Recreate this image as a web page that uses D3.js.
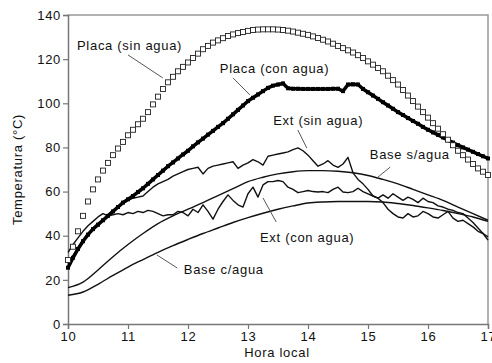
<!DOCTYPE html>
<html>
<head>
<meta charset="utf-8">
<script src="https://cdn.jsdelivr.net/npm/d3@7"></script>
<style>
  body { margin: 0; background: #fff; }
  text { font-family: "Liberation Sans", Arial, sans-serif; fill: #111; }
</style>
</head>
<body>
<svg id="chart" width="492" height="363"></svg>
<script>
// readings every 5 minutes from 10:00 to 17:00 (hours, decimal)
const sampleMinutes = d3.range(0, 421, 5)
const sampleHours = sampleMinutes.map(m => 10 + m / 60)

// smooth base temperatures, read every 15 minutes
const baseHours = d3.range(0, 421, 15).map(m => 10 + m / 60)

const placaSinAgua = [29, 35, 42, 49, 55.5, 61, 65.5, 69.5, 73, 76.5,
  79.5, 82.5, 85.5, 88, 90.5, 93, 96, 99.5, 103, 106.5,
  109.5, 112, 114.5, 116.5, 118.5, 120.5, 122.5, 124.5, 126, 127.5,
  128.5, 129.5, 130.5, 131.2, 131.8, 132.3, 132.8, 133.2, 133.4, 133.5,
  133.5, 133.5, 133.4, 133.2, 132.9, 132.5, 132, 131.5, 131, 130.3,
  129.6, 128.8, 128, 127, 126, 125, 124, 123, 121.8, 120.5,
  119, 117.5, 116, 114.5, 112.5, 110.5, 108.5, 106, 103.5, 101,
  98.5, 96, 93.5, 91, 88.5, 86, 83.5, 81, 78.5, 76.5,
  74.5, 72.5, 70.5, 69, 67.5]

const placaConAgua = [25.5, 30, 34, 37.5, 40.5, 43, 45, 47, 49, 51,
  53, 55, 56.5, 58, 59.8, 61.5, 63.5, 65.5, 67.5, 69.5,
  71.5, 73.2, 75, 76.8, 78.5, 80.5, 82.3, 84, 85.8, 87.5,
  89.3, 91, 93, 95, 97, 99, 101, 102.5, 104, 105.5,
  107, 108, 108.5, 109, 106.8, 106.6, 106.6, 106.5, 106.5, 106.5,
  106.5, 106.5, 106.5, 106.6, 106.6, 105.5, 108.5, 108.6, 108.5, 106.5,
  105, 103.5, 102, 100.5, 99, 97.5, 96, 94.7, 93.3, 92,
  90.7, 89.3, 88, 86.8, 85.7, 84.5, 83.3, 82.2, 81, 80,
  79, 78, 77, 76, 75]

const extSinAgua = [27, 31, 34.5, 38, 41, 43.5, 45.5, 47.5, 49.5, 51.5,
  53, 54.5, 56, 57, 57.5, 58, 60, 62, 63.5, 64.5,
  65.5, 67, 68, 69, 70, 70.5, 71, 68, 70.5, 71.5,
  72, 72.5, 73, 73.5, 70.5, 72, 73, 74.5, 73.5, 72,
  76, 76.5, 77, 77.5, 78, 79, 79.8, 78.5, 76.5, 74,
  71.5, 72.5, 74, 72, 71, 72.5, 75.5, 68.5, 65.5, 63.5,
  61, 58, 57, 58.5, 57, 59, 57.5, 56, 57.5, 56.5,
  55, 57, 55.5, 55, 53.5, 53, 52, 51.5, 50.5, 50,
  48, 46, 43.5, 41, 39.5]

const extConAgua = [32.5, 36, 39, 42, 44.5, 46.5, 48.5, 50, 49, 49.5,
  50, 49.5, 50.5, 50, 51, 50.5, 51.5, 51, 50, 49,
  49.5, 49.5, 51, 50.5, 49, 52, 50.5, 54, 51, 47.5,
  52, 55.5, 58.5, 56, 54, 53, 59, 62, 57.5, 63,
  64.5, 64.5, 65, 64.5, 62, 61, 59.5, 60, 60.5, 60,
  59.8, 60, 59.5, 61, 62, 59.8, 59.5, 60, 61.5, 60,
  59, 58, 57, 55, 52, 50, 48.5, 48, 50, 48.5,
  49, 51, 50, 48.5, 48, 49.5, 51, 48, 46.5, 47,
  45.5, 44, 42, 41, 38]

const baseSinAgua = [16.5, 19, 24.5, 30.5, 36, 41, 45.5, 49, 52, 55,
  58.2, 61.3, 64.5, 66.5, 68, 69, 69.5, 69.5, 69.2, 68.5,
  67.3, 65.5, 63.5, 61, 58.5, 56, 53, 50, 47]

const baseConAgua = [13, 14.5, 18, 22, 25.8, 29.2, 32.5, 35.5, 38.3, 41,
  43.5, 46, 48.2, 50.2, 52, 53.5, 54.8, 55.3, 55.5, 55.5,
  55.5, 55.3, 54.6, 53.7, 52.6, 51.4, 50, 48.5, 46.5]

const xTicks = [10, 11, 12, 13, 14, 15, 16, 17]
const yTicks = [0, 20, 40, 60, 80, 100, 120, 140]

// labels: text anchor (hour, temp) and leader line from -> to
const labelText = ['Placa (sin agua)', 'Placa (con agua)', 'Ext (sin agua)',
  'Base s/agua', 'Ext (con agua)', 'Base c/agua']
const labelAt = [[10.15, 126.4], [12.53, 116], [13.42, 92.4],
  [15.03, 76.6], [13.2, 39.4], [11.93, 24.5]]
const leaderFrom = [[11.0, 121.9], [12.75, 111.5], [13.83, 87.9],
  [15.37, 71.1], [13.47, 46.2], [11.82, 25.4]]
const leaderTo = [[11.58, 111.5], [13.03, 103.8], [13.98, 79.7],
  [15.15, 66.2], [13.25, 57.1], [11.48, 31.3]]

const margin = { top: 15, right: 4, bottom: 39, left: 68 }
const width = 492, height = 363

const svg = d3.select('#chart')

const x = d3.scaleLinear().domain([10, 17])
  .range([margin.left, width - margin.right])
const y = d3.scaleLinear().domain([0, 140])
  .range([height - margin.bottom, margin.top])

const axisColor = '#777'

// frame (top + right)
svg.append('path')
  .attr('d', `M${x(10)},${y(140)}H${x(17)}V${y(0)}`)
  .attr('fill', 'none')
  .attr('stroke', '#999')
  .attr('stroke-width', 1.5)

let xAxis = svg.append('g')
  .attr('transform', `translate(0,${y(0)})`)
  .call(d3.axisBottom(x).tickValues(xTicks).tickFormat(d3.format('d'))
    .tickSize(5).tickPadding(3))
let yAxis = svg.append('g')
  .attr('transform', `translate(${x(10)},0)`)
  .call(d3.axisLeft(y).tickValues(yTicks).tickSize(5).tickPadding(2))

;[xAxis, yAxis].forEach(g => {
  g.select('.domain').attr('stroke', axisColor).attr('stroke-width', 1.5)
  g.selectAll('.tick line').attr('stroke', axisColor).attr('stroke-width', 1.2)
  g.selectAll('.tick text')
    .attr('fill', '#111')
    .style('font-size', '13px')
    .style('letter-spacing', '0.7px')
})

svg.append('text')
  .attr('x', 277).attr('y', 357)
  .attr('text-anchor', 'middle')
  .style('font-size', '13px')
  .style('letter-spacing', '0.7px')
  .text('Hora local')

svg.append('text')
  .attr('transform', `translate(22,${(y(0) + y(140)) / 2}) rotate(-90)`)
  .attr('text-anchor', 'middle')
  .style('font-size', '13px')
  .style('letter-spacing', '0.7px')
  .text('Temperatura (°C)')

const plot = svg.append('g')

let lineGen = d3.line().x(d => x(d[0])).y(d => y(d[1]))
let smoothGen = d3.line().x(d => x(d[0])).y(d => y(d[1])).curve(d3.curveMonotoneX)

const zip = (hours, vals) => hours.map((h, i) => [h, vals[i]])

// thin lines first
const thin = [
  { data: zip(baseHours, baseConAgua), gen: smoothGen },
  { data: zip(baseHours, baseSinAgua), gen: smoothGen },
  { data: zip(sampleHours, extConAgua), gen: lineGen },
  { data: zip(sampleHours, extSinAgua), gen: lineGen }
]
plot.selectAll('path.thin')
  .data(thin)
  .enter().append('path')
  .attr('class', 'thin')
  .attr('d', d => d.gen(d.data))
  .attr('fill', 'none')
  .attr('stroke', '#111')
  .attr('stroke-width', 1.4)
  .attr('stroke-linejoin', 'round')

// Placa (con agua): heavy line with small filled markers
const conPts = zip(sampleHours, placaConAgua)
plot.append('path')
  .attr('d', lineGen(conPts))
  .attr('fill', 'none')
  .attr('stroke', '#000')
  .attr('stroke-width', 3.5)
  .attr('stroke-linejoin', 'round')
plot.selectAll('rect.con')
  .data(conPts)
  .enter().append('rect')
  .attr('class', 'con')
  .attr('x', d => x(d[0]) - 2)
  .attr('y', d => y(d[1]) - 2)
  .attr('width', 4).attr('height', 4)
  .attr('fill', '#000')

// Placa (sin agua): open squares
const sinPts = zip(sampleHours, placaSinAgua)
plot.selectAll('rect.sin')
  .data(sinPts)
  .enter().append('rect')
  .attr('class', 'sin')
  .attr('x', d => x(d[0]) - 2.5)
  .attr('y', d => y(d[1]) - 2.5)
  .attr('width', 5).attr('height', 5)
  .attr('fill', '#fff')
  .attr('stroke', '#222')
  .attr('stroke-width', 0.9)

// annotations
const notes = svg.append('g')
notes.selectAll('line')
  .data(labelText)
  .enter().append('line')
  .attr('x1', (d, i) => x(leaderFrom[i][0]))
  .attr('y1', (d, i) => y(leaderFrom[i][1]))
  .attr('x2', (d, i) => x(leaderTo[i][0]))
  .attr('y2', (d, i) => y(leaderTo[i][1]))
  .attr('stroke', '#444')
  .attr('stroke-width', 0.9)
notes.selectAll('text')
  .data(labelText)
  .enter().append('text')
  .attr('x', (d, i) => x(labelAt[i][0]))
  .attr('y', (d, i) => y(labelAt[i][1]))
  .attr('dy', '0.35em')
  .style('font-size', '13px')
  .style('letter-spacing', '0.7px')
  .text(d => d)
</script>
</body>
</html>
